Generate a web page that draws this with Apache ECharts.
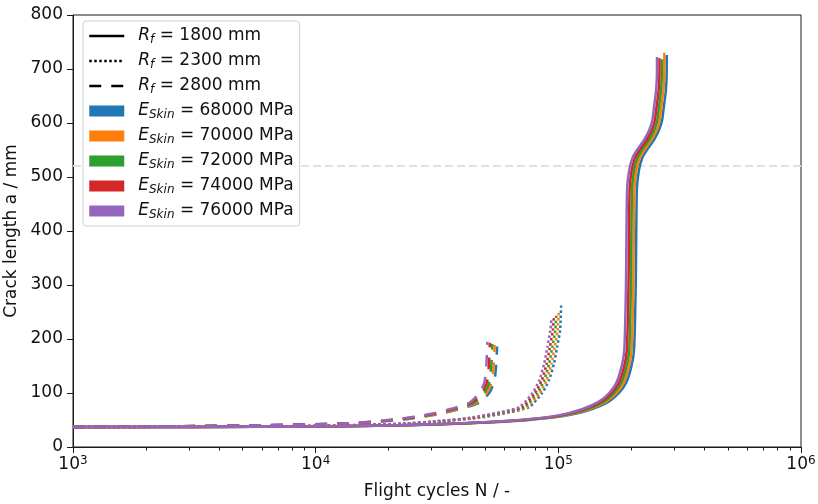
<!DOCTYPE html>
<html><head><meta charset="utf-8">
<script src="https://cdn.jsdelivr.net/npm/echarts@6/dist/echarts.min.js"></script>
<style>html,body{margin:0;padding:0;background:#fff}#c{width:818px;height:504px}</style>
</head><body><div id="c"></div>
<script>
// ---- data ----
const colors = ['#1f77b4', '#ff7f0e', '#2ca02c', '#d62728', '#9467bd'];
const eSkin = ['68000', '70000', '72000', '74000', '76000'];
const radii = ['1800', '2300', '2800'];
const minorTickValues = [2000,3000,4000,5000,6000,7000,8000,9000,
  20000,30000,40000,50000,60000,70000,80000,90000,
  200000,300000,400000,500000,600000,700000,800000,900000];
const threshold = 520;

// Rf = 1800 mm (solid): crack length a / mm, N per E_Skin (68000..76000)
const aSolid = [37,37,38,40,44,50,59,70,84,100,118,148,180,300,476,513,535,550,569,587,605,630,661,698];
const topSolid = [726, 730, 718, 720, 722];
const nSolid68000 = [1000,3290,10970,21940,43900,75700,110800,137100,161300,177700,189800,199700,205100,208400,210600,215000,221600,231500,247900,260000,267700,272100,277500,279700,279700];
const nSolid70000 = [1000,3220,10720,21440,42900,74000,108300,134000,157600,173700,185500,195100,200500,203700,205800,210100,216500,226200,242300,254100,261600,265900,271200,273400,273400];
const nSolid72000 = [1000,3140,10480,20960,41900,72300,105800,131000,154100,169800,181300,190700,196000,199100,201200,205400,211700,221100,236800,248400,255700,259900,265100,267200,267200];
const nSolid74000 = [1000,3070,10240,20500,41000,70700,103400,128000,150500,165900,177200,186400,191500,194600,196600,200700,206800,216100,231400,242700,249900,254000,259100,261100,261100];
const nSolid76000 = [1000,3000,10000,20000,40000,69000,101000,125000,147000,162000,173000,182000,187000,190000,192000,196000,202000,211000,226000,237000,244000,248000,253000,255000,255000];

// Rf = 2300 mm (dotted)
const aDotted = [37,37.5,39,43,47,54,64,74,100,124,155,185,216];
const topDotted = [262, 250, 245, 240, 235];
const nDotted68000 = [1000,3290,10970,24130,32910,47170,62530,75910,85790,91600,95990,98840,101690,102680];
const nDotted70000 = [1000,3220,10720,23580,32160,46100,61100,74180,83830,89510,93800,96590,99370,100340];
const nDotted72000 = [1000,3140,10480,23060,31440,45060,59740,72520,81950,87510,91700,94420,97150,98090];
const nDotted74000 = [1000,3070,10240,22530,30720,44030,58370,70860,80080,85500,89600,92260,94920,95850];
const nDotted76000 = [1000,3000,10000,22000,30000,43000,57000,69200,78200,83500,87500,90100,92700,93600];

// Rf = 2800 mm (dashed)
const aDashed = [37,38,40,44,52,61,72,82,100,120,150];
const topDashed = [186, 189, 191, 193, 195];
const nDashed68000 = [1000,2270,5870,15140,24130,32360,40590,47170,51890,54410,55400,55950];
const nDashed70000 = [1000,2220,5740,14790,23580,31620,39660,46100,50710,53170,54140,54670];
const nDashed72000 = [1000,2170,5610,14460,23060,30920,38780,45060,49570,51980,52920,53450];
const nDashed74000 = [1000,2120,5480,14130,22530,30210,37890,44030,48440,50790,51710,52220];
const nDashed76000 = [1000,2070,5350,13800,22000,29500,37000,43000,47300,49600,50500,51000];

// ---- build ----
const FONT = 'DejaVu Sans';
const styles = [
  { r: radii[0], a: aSolid, tops: topSolid, n: [nSolid68000, nSolid70000, nSolid72000, nSolid74000, nSolid76000], type: 'solid' },
  { r: radii[1], a: aDotted, tops: topDotted, n: [nDotted68000, nDotted70000, nDotted72000, nDotted74000, nDotted76000], type: [2.5, 2.5] },
  { r: radii[2], a: aDashed, tops: topDashed, n: [nDashed68000, nDashed70000, nDashed72000, nDashed74000, nDashed76000], type: [12, 10] }
];

const series = [];
colors.forEach((col, ci) => {
  styles.forEach((st) => {
    const data = st.n[ci].map((nv, i) => [nv, i < st.a.length ? st.a[i] : st.tops[ci]]);
    series.push({
      name: 'R' + st.r + '_E' + eSkin[ci],
      type: 'line', data: data, symbol: 'none', smooth: 0.2,
      lineStyle: { color: col, width: 2.5, type: st.type, cap: 'butt' },
      itemStyle: { color: col }, z: 3, silent: true
    });
  });
});
// threshold line
series.unshift({
  name: 'threshold', type: 'line', data: [], symbol: 'none', silent: true,
  markLine: { silent: true, symbol: 'none', label: { show: false }, z: 1,
    lineStyle: { color: '#e0e0e0', width: 2, type: [8, 4] },
    data: [{ yAxis: threshold }] }
});

// legend dummy series
const legendData = [];
styles.forEach((st) => {
  const nm = 'Rf' + st.r;
  series.push({ name: nm, type: 'line', data: [], symbol: 'none', lineStyle: { color: '#000', width: 2.5, type: st.type }, itemStyle: { color: '#000' } });
  legendData.push({ name: nm, itemStyle: { opacity: 0 }, lineStyle: { width: 2.5, type: st.type, color: '#000' } });
});
colors.forEach((col, ci) => {
  const nm = 'E' + eSkin[ci];
  series.push({ name: nm, type: 'line', data: [], symbol: 'none', lineStyle: { color: col }, itemStyle: { color: col } });
  legendData.push({ name: nm, icon: 'rect', itemStyle: { color: col, opacity: 1 } });
});

const option = {
  animation: false,
  backgroundColor: '#fff',
  grid: { left: 73, right: 17, top: 15, bottom: 57, outerBoundsMode: 'none', containLabel: false,
    show: true, borderColor: '#1a1a1a', borderWidth: 1, backgroundColor: 'transparent' },
  legend: {
    left: 83, top: 21, orient: 'vertical', selectedMode: false,
    padding: [5, 6, 5, 5], itemGap: 5, itemWidth: 35, itemHeight: 11,
    backgroundColor: 'rgba(255,255,255,0.85)', borderColor: '#d0d0d0', borderWidth: 1, borderRadius: 3,
    data: legendData,
    textStyle: {
      fontFamily: FONT, fontSize: 17, color: '#111', lineHeight: 20,
      rich: {
        it: { fontFamily: FONT, fontStyle: 'italic', fontSize: 17, color: '#111', lineHeight: 20, padding: [0, 0, 0, 9] },
        sub: { fontFamily: FONT, fontStyle: 'italic', fontSize: 12, color: '#111', lineHeight: 8, verticalAlign: 'bottom' },
        n: { fontFamily: FONT, fontSize: 17, color: '#111', lineHeight: 20 }
      }
    },
    formatter: function (name) {
      if (name.indexOf('Rf') === 0) return '{it|R}{sub|f}{n| = ' + name.slice(2) + ' mm}';
      return '{it|E}{sub|Skin}{n| = ' + name.slice(1) + ' MPa}';
    }
  },
  xAxis: [
    {
      type: 'log', logBase: 10, min: 1000, max: 1000000,
      name: 'Flight cycles N / -', nameLocation: 'middle', nameGap: 36,
      nameTextStyle: { fontFamily: FONT, fontSize: 17, color: '#111' },
      axisLine: { show: true, lineStyle: { color: '#1a1a1a', width: 1 } },
      axisTick: { show: true, inside: false, length: 6, lineStyle: { color: '#1a1a1a', width: 1 } },
      splitLine: { show: false }, minorTick: { show: false },
      axisLabel: {
        margin: 8, color: '#111',
        formatter: function (v) { const e = Math.round(Math.log10(v)); return '{b|10}{s|' + e + '}'; },
        rich: {
          b: { fontFamily: FONT, fontSize: 17, color: '#111', lineHeight: 20 },
          s: { fontFamily: FONT, fontSize: 12, color: '#111', lineHeight: 8, verticalAlign: 'top' }
        }
      }
    },
    {
      type: 'log', logBase: 10, min: 1000, max: 1000000, position: 'bottom',
      axisLine: { show: false }, splitLine: { show: false },
      axisLabel: { show: false },
      axisTick: { show: true, inside: false, length: 3.5, customValues: minorTickValues, lineStyle: { color: '#1a1a1a', width: 1 } }
    }
  ],
  yAxis: {
    type: 'value', min: 0, max: 800, interval: 100,
    name: 'Crack length a / mm', nameLocation: 'middle', nameGap: 48,
    nameTextStyle: { fontFamily: FONT, fontSize: 17, color: '#111' },
    axisLine: { show: true, lineStyle: { color: '#1a1a1a', width: 1 } },
    axisTick: { show: true, inside: false, length: 6, lineStyle: { color: '#1a1a1a', width: 1 } },
    splitLine: { show: false },
    axisLabel: { fontFamily: FONT, fontSize: 17, color: '#111', margin: 10 }
  },
  series: series
};

const chart = echarts.init(document.getElementById('c'), null, { renderer: 'canvas' });
chart.setOption(option);
</script>
</body></html>
